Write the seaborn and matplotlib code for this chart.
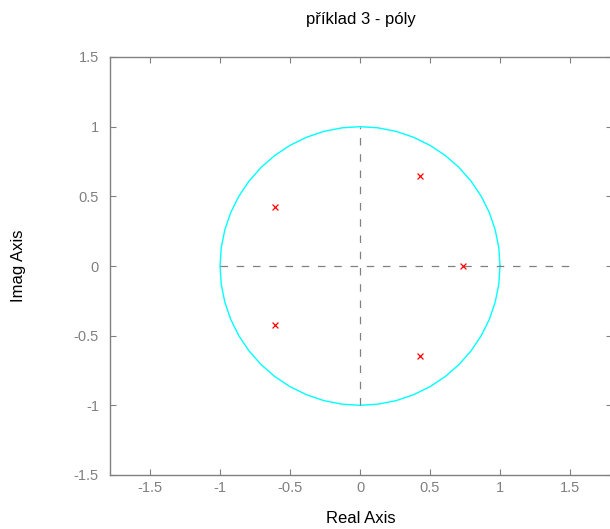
import numpy as np
import pandas as pd
import matplotlib
matplotlib.use("Agg")
import matplotlib.pyplot as plt
import seaborn as sns

# Pole data (real, imaginary parts)
pole_re = [-0.605, -0.605, 0.43, 0.43, 0.736]
pole_im = [0.42, -0.42, 0.645, -0.645, 0.0]

x_ticks = [-1.5, -1, -0.5, 0, 0.5, 1, 1.5]
x_tick_labels = ["-1.5", "-1", "-0.5", "0", "0.5", "1", "1.5"]
y_ticks = [-1.5, -1, -0.5, 0, 0.5, 1, 1.5]
y_tick_labels = ["-1.5", "-1", "-0.5", "0", "0.5", "1", "1.5"]

sns.set_style("ticks")
plt.rcParams['font.family'] = ['Liberation Sans', 'DejaVu Sans']

fig = plt.figure(figsize=(6.10, 5.29), dpi=100)
ax = fig.add_axes([110/610, 1-475/529, 502/610, 418/529])

grey = "#808080"

# unit circle
theta = np.linspace(0, 2*np.pi, 49)
circle = pd.DataFrame({"re": np.cos(theta), "im": np.sin(theta)})
sns.lineplot(data=circle, x="re", y="im", sort=False, estimator=None,
             color="cyan", lw=1.0, ax=ax)

# axes lines
ax.plot([-1, 1.5], [0, 0], ls=(0, (6, 7)), color=grey, lw=0.9)
ax.plot([0, 0], [-1, 1], ls=(0, (6, 7)), color=grey, lw=0.9)

poles = pd.DataFrame({"re": pole_re, "im": pole_im})
sns.scatterplot(data=poles, x="re", y="im", marker="x", color="red",
                s=18, linewidth=0.9, ax=ax, zorder=5)

ax.set_xlim(-1.786, 1.80)
ax.set_ylim(-1.5, 1.5)
ax.set_xticks(x_ticks)
ax.set_xticklabels(x_tick_labels)
ax.set_yticks(y_ticks)
ax.set_yticklabels(y_tick_labels)
ax.tick_params(direction="in", length=4, width=0.8, color=grey,
               labelcolor=grey, labelsize=10.5, top=True, right=True)
ax.tick_params(axis="x", pad=4.5)
ax.tick_params(axis="y", pad=8)
for sp in ax.spines.values():
    sp.set_color(grey)
    sp.set_linewidth(1.0)

ax.set_xlabel("Real Axis", fontsize=12, color="black", labelpad=11)
ax.set_ylabel("Imag Axis", fontsize=12, color="black", labelpad=34)
ax.set_title("příklad 3 - póly", fontsize=12, color="black", pad=23.5)

fig.savefig("out.png", dpi=100)
